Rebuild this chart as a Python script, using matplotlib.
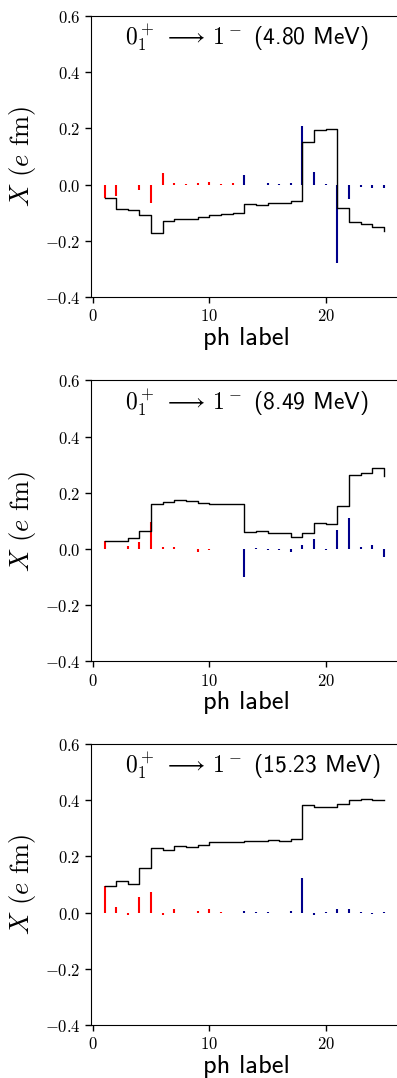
import numpy as np
import matplotlib
matplotlib.use("Agg")
import matplotlib.pyplot as plt
from matplotlib.ticker import FuncFormatter, MultipleLocator

plt.rcParams["mathtext.fontset"] = "cm"

# ph labels 1..25; first 12 drawn in red, the rest in blue
ph_label = np.arange(1, 26)
n_red = 12

# contribution of each ph configuration (e fm)
x_480 = [-0.047, -0.040, -0.002, -0.019, -0.065, 0.042, 0.007, 0.003, 0.006,
         0.008, 0.001, 0.004, 0.034, -0.003, 0.005, 0.002, 0.005, 0.210,
         0.043, 0.002, -0.278, -0.052, -0.007, -0.011, -0.013]
x_849 = [0.028, 0.000, 0.012, 0.024, 0.096, 0.007, 0.006, -0.001, -0.009,
         -0.002, 0.000, 0.000, -0.101, 0.003, -0.005, -0.002, -0.012, 0.013,
         0.035, -0.004, 0.066, 0.111, 0.007, 0.016, -0.029]
x_1523 = [0.094, 0.018, -0.010, 0.056, 0.073, -0.008, 0.013, -0.001, 0.004,
          0.012, 0.001, -0.002, 0.004, 0.002, 0.001, -0.001, 0.004, 0.122,
          -0.007, 0.001, 0.012, 0.013, 0.003, -0.005, 0.003]

energies = ["4.80", "8.49", "15.23"]
panels = [x_480, x_849, x_1523]
bottoms = [0.7245, 0.3864, 0.0492]

fig = plt.figure(figsize=(3.97, 10.78), dpi=100)

for vals, energy, bottom in zip(panels, energies, bottoms):
    ax = fig.add_axes([0.229, bottom, 0.781, 0.2607])
    vals = np.array(vals)

    ax.vlines(ph_label[:n_red], 0, vals[:n_red], color="red", lw=1.5)
    ax.vlines(ph_label[n_red:], 0, vals[n_red:], color="darkblue", lw=1.5)
    ax.step(ph_label, np.cumsum(vals), where="post", color="black", lw=1.0)

    ax.set_xlim(-0.17, 26.46)
    ax.set_ylim(-0.4, 0.6)
    ax.xaxis.set_major_locator(MultipleLocator(10))
    ax.yaxis.set_major_locator(MultipleLocator(0.2))
    ax.xaxis.set_major_formatter(FuncFormatter(lambda v, p: f"${v:.0f}$"))
    ax.yaxis.set_major_formatter(FuncFormatter(lambda v, p: f"${v:.1f}$"))
    ax.tick_params(direction="out", length=4, width=1, labelsize=12)
    ax.spines["right"].set_visible(False)

    ax.text(0.11, 0.975,
            r"$0_1^+ \;\longrightarrow\, 1^-$ (" + energy + " MeV)",
            transform=ax.transAxes, ha="left", va="top", fontsize=17,
            family="cmss10")
    ax.set_xlabel("ph label", family="cmss10", fontsize=19, labelpad=1)
    ax.set_ylabel(r"$X$ ($e$ fm)", family="cmr10", fontsize=19, labelpad=5)

fig.savefig("out.png", dpi=100)
